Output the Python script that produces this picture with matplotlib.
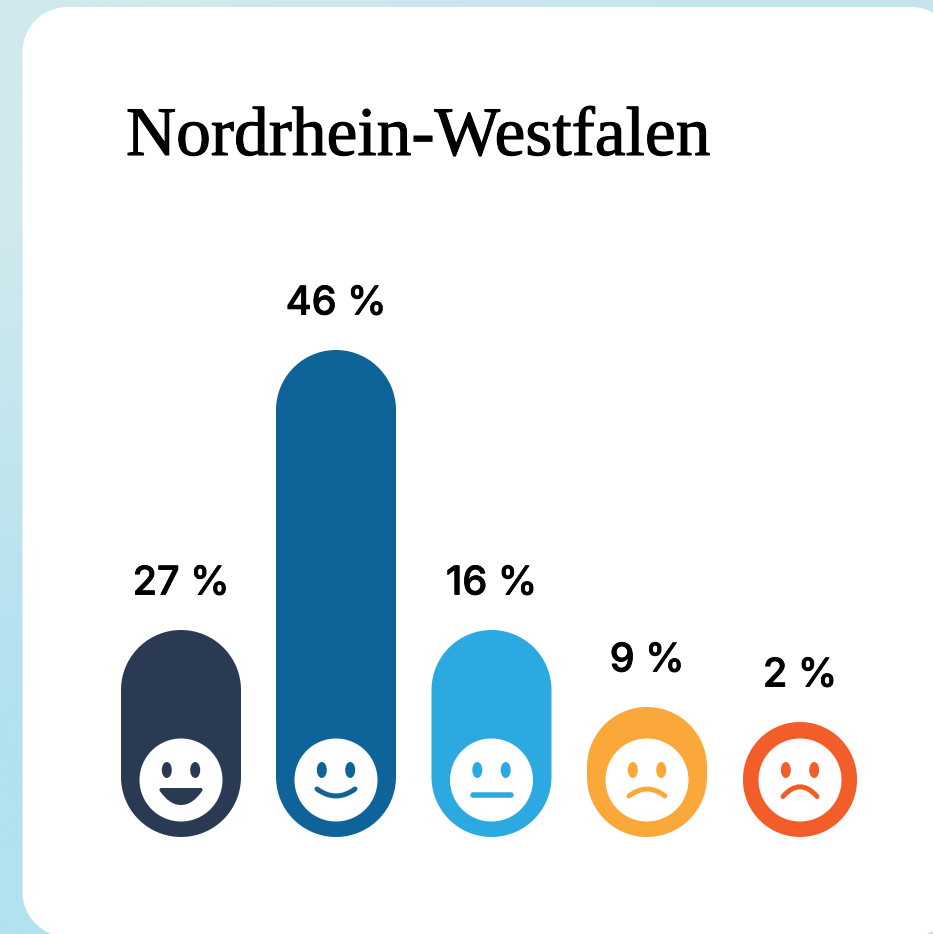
import numpy as np
import matplotlib
matplotlib.use("Agg")
import matplotlib.pyplot as plt
import matplotlib.patheffects as pe
from matplotlib.path import Path
from matplotlib.patches import PathPatch, Ellipse, Circle

W, H = 933, 934

title = "Nordrhein-Westfalen"
values = [27, 46, 16, 9, 2]
# bar lengths are not proportional to the values
bar_lengths = [207, 487, 207, 130, 115]
bar_colors = ["#2a3a53", "#0e6499", "#2ca9e1", "#fba83a", "#f35d29"]
mouths = ["open", "smile", "flat", "sad", "sadder"]

centers = [181, 336, 491.5, 647, 800]
widths = [120, 120, 120, 120, 114]
baseline = 837


def capsule(cx, top, bottom, r):
    t = np.linspace(np.pi, 0, 60)
    # upper cap then lower cap
    xs = np.r_[cx + r * np.cos(t), cx + r * np.cos(-t[::-1])]
    ys = np.r_[top + r - r * np.sin(t), bottom - r + r * np.sin(t[::-1])]
    return xs, ys


def rounded_card(x0, y0, x1, y1, r):
    t = np.linspace(0, np.pi / 2, 40)
    xs = np.r_[x0 + r - r * np.cos(t), x1 - r + r * np.sin(t),
               x1 - r + r * np.cos(t), x0 + r - r * np.sin(t)]
    ys = np.r_[y0 + r - r * np.sin(t), y0 + r - r * np.cos(t),
               y1 - r + r * np.sin(t), y1 - r + r * np.cos(t)]
    return xs, ys


fig = plt.figure(figsize=(W / 100, H / 100), dpi=100)
ax = fig.add_axes([0, 0, 1, 1])
ax.axis("off")
PX = 72 / fig.dpi

# background gradient
top_row = np.array([[207, 233, 237], [195, 230, 238]]) / 255
bottom_row = np.array([[178, 225, 240], [178, 225, 240]]) / 255
bg = np.stack([top_row, bottom_row])
ax.imshow(bg, extent=(0, W, H, 0), aspect="auto", interpolation="bilinear", zorder=0)
ax.set_xlim(0, W)
ax.set_ylim(H, 0)

card_x, card_y = rounded_card(22.5, 7, 956, 937, 45)
ax.fill(card_x, card_y, color="white", lw=0, zorder=1)

ax.text(126, 155, title, family="Liberation Serif", fontsize=50, color="black",
        ha="left", va="baseline", zorder=5,
        path_effects=[pe.withStroke(linewidth=1.1 * PX, foreground="black")])

for i in range(len(values)):
    cx = centers[i]
    top = baseline - bar_lengths[i]
    r = widths[i] / 2
    xs, ys = capsule(cx, top, baseline, r)
    col = bar_colors[i]
    ax.fill(xs, ys, color=col, lw=0, zorder=2)

    ax.text(cx, top - 46, "%d %%" % values[i], family="Inter", fontweight="medium",
            fontsize=28.5, color="black", ha="center", va="center", zorder=5,
            path_effects=[pe.withStroke(linewidth=0.8 * PX, foreground="black")])

    # face
    fy = 780
    ax.add_patch(Circle((cx, fy), 41.5, fc="white", ec="none", zorder=3))
    for dx in (-14.2, 14.2):
        ax.add_patch(Ellipse((cx + dx, fy - 10), 10, 16, fc=col, ec="none", zorder=4))

    kind = mouths[i]
    if kind == "open":
        verts = [(cx - 20, 788), (cx + 20, 788),
                 (cx + 22, 788), (cx + 21.5, 790.5),
                 (cx + 15, 800), (cx + 8, 805), (cx, 805),
                 (cx - 8, 805), (cx - 15, 800), (cx - 21.5, 790.5),
                 (cx - 22, 788), (cx - 20, 788), (cx - 20, 788)]
        codes = [Path.MOVETO, Path.LINETO,
                 Path.CURVE3, Path.CURVE3,
                 Path.CURVE4, Path.CURVE4, Path.CURVE4,
                 Path.CURVE4, Path.CURVE4, Path.CURVE4,
                 Path.CURVE3, Path.CURVE3, Path.CLOSEPOLY]
        ax.add_patch(PathPatch(Path(verts, codes), fc=col, ec="none", zorder=4))
    elif kind == "flat":
        ax.plot([cx - 19, cx + 19], [795, 795], color=col, lw=5.5 * PX,
                solid_capstyle="round", zorder=4)
    else:
        half, end_y, ctrl_y = {"smile": (19, 789, 803),
                               "sad": (18, 796, 782),
                               "sadder": (17, 796.5, 777)}[kind]
        verts = [(cx - half, end_y), (cx, ctrl_y), (cx + half, end_y)]
        codes = [Path.MOVETO, Path.CURVE3, Path.CURVE3]
        ax.add_patch(PathPatch(Path(verts, codes), fc="none", ec=col, lw=5 * PX,
                               capstyle="round", zorder=4))

fig.savefig("out.png", dpi=100)
